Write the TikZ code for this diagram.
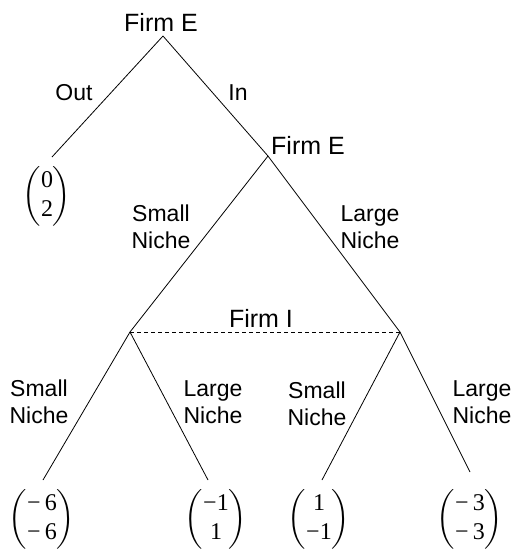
\documentclass[tikz,border=0pt]{standalone}
\usepackage{amsmath}
\usepackage{fontspec}
\setmainfont{Liberation Sans}
\newfontfamily\serifnum{Liberation Serif}
\newcommand\payvec[2]{$\left(\begin{tabular}{@{}c@{}}#1\\#2\end{tabular}\right)$}
\begin{document}
\begin{tikzpicture}[x=1pt,y=-1pt,
  edge/.style={line width=0.8pt},
  info/.style={line width=0.8pt,dash pattern=on 4pt off 3pt},
  lbl/.style={font=\fontsize{23}{27}\selectfont,inner sep=0pt,align=center},
  firm/.style={font=\fontsize{25}{28}\selectfont,inner sep=0pt},
  pay/.style={font=\fontsize{24}{29}\selectfont\serifnum,inner sep=0pt}]
\useasboundingbox (0,0) rectangle (514,552);
% decision points
\coordinate (root) at (163,36);
\coordinate (e2) at (268,156);
\coordinate (iL) at (130,332);
\coordinate (iR) at (400,332);
% branch ends
\coordinate (outEnd) at (52,157);
\coordinate (llEnd) at (43,480);
\coordinate (lrEnd) at (208,480);
\coordinate (rlEnd) at (322,480);
\coordinate (rrEnd) at (470,472);
% edges
\draw[edge] (root) -- (outEnd);
\draw[edge] (root) -- (e2);
\draw[edge] (e2) -- (iL);
\draw[edge] (e2) -- (iR);
\draw[edge] (iL) -- (llEnd);
\draw[edge] (iL) -- (lrEnd);
\draw[edge] (iR) -- (rlEnd);
\draw[edge] (iR) -- (rrEnd);
\draw[info] (iL) -- (iR);
% player labels
\node[firm,anchor=base] (fE1) at (161,31) {Firm E};
\node[firm,anchor=base west] (fE2) at (271,154) {Firm E};
\node[firm,anchor=base] (fI) at (261,327) {Firm I};
% action labels
\node[lbl,anchor=base] (out) at (74,100) {Out};
\node[lbl,anchor=base] (in) at (238,100) {In};
\node[lbl] (sn1) at (161,227) {Small\\Niche};
\node[lbl] (ln1) at (370,227) {Large\\Niche};
\node[lbl] (sn2) at (39,402) {Small\\Niche};
\node[lbl] (ln2) at (213,402) {Large\\Niche};
\node[lbl] (sn3) at (317,404) {Small\\Niche};
\node[lbl] (ln3) at (482,402) {Large\\Niche};
% payoffs
\node[pay] (p0) at (47,196) {\payvec{0}{2}};
\node[pay] (p1) at (42,519) {\payvec{−\,6}{−\,6}};
\node[pay] (p2) at (216,519) {\payvec{−1}{1}};
\node[pay] (p3) at (319,519) {\payvec{1}{−1}};
\node[pay] (p4) at (470,519) {\payvec{−\,3}{−\,3}};
\end{tikzpicture}
\end{document}
